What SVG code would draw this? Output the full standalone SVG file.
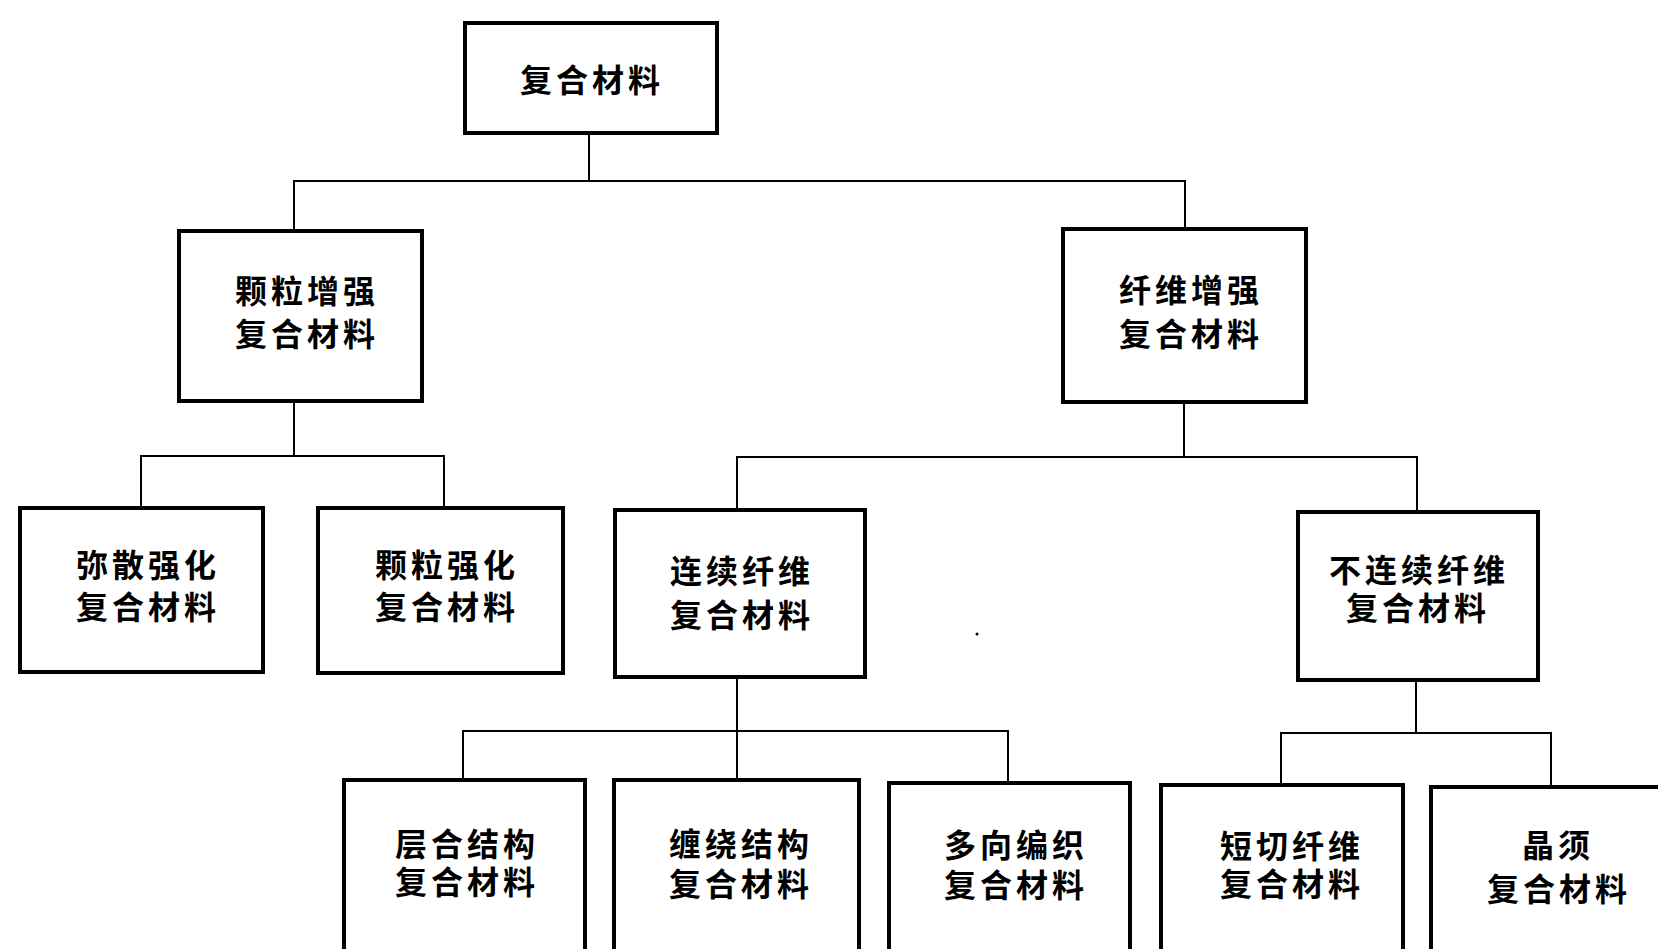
<svg xmlns="http://www.w3.org/2000/svg" width="1658" height="949" viewBox="0 0 1658 949">
<style>
.box{fill:#fff;stroke:#000;stroke-width:4}
.ln{fill:none;stroke:#000;stroke-width:2}
.t{font-family:"Noto Sans CJK SC","Noto Sans",sans-serif;font-size:32px;font-weight:bold;text-anchor:middle;dominant-baseline:central;letter-spacing:4px;fill:#000}
</style>
<rect width="1658" height="949" fill="#fff"/>
<g id="connectors">
<path class="ln" d="M589 133V181M294 231V181H1185V229"/>
<path class="ln" d="M294 401V456M141 508V456H444V508"/>
<path class="ln" d="M1184 402V457M737 510V457H1417V512"/>
<path class="ln" d="M737 677V731M463 780V731H1008V783M737 731V780"/>
<path class="ln" d="M1416 680V733M1281 785V733H1551V787"/>
<circle cx="977" cy="634" r="1.5" fill="#000"/>
</g>
<g id="n0"><rect class="box" x="465" y="23" width="252" height="110"/><text class="t" x="592" y="78">复合材料</text></g>
<g id="n1"><rect class="box" x="179" y="231" width="243" height="170"/><text class="t" x="307" y="289">颗粒增强</text><text class="t" x="307" y="332">复合材料</text></g>
<g id="n2"><rect class="box" x="1063" y="229" width="243" height="173"/><text class="t" x="1191" y="288">纤维增强</text><text class="t" x="1191" y="332">复合材料</text></g>
<g id="n3"><rect class="box" x="20" y="508" width="243" height="164"/><text class="t" x="148" y="563">弥散强化</text><text class="t" x="148" y="605">复合材料</text></g>
<g id="n4"><rect class="box" x="318" y="508" width="245" height="165"/><text class="t" x="447" y="563">颗粒强化</text><text class="t" x="447" y="605">复合材料</text></g>
<g id="n5"><rect class="box" x="615" y="510" width="250" height="167"/><text class="t" x="742" y="569">连续纤维</text><text class="t" x="742" y="613">复合材料</text></g>
<g id="n6"><rect class="box" x="1298" y="512" width="240" height="168"/><text class="t" x="1419" y="568">不连续纤维</text><text class="t" x="1418" y="606">复合材料</text></g>
<g id="n7"><rect class="box" x="344" y="780" width="241" height="190"/><text class="t" x="467" y="842">层合结构</text><text class="t" x="467" y="880">复合材料</text></g>
<g id="n8"><rect class="box" x="614" y="780" width="245" height="190"/><text class="t" x="741" y="842">缠绕结构</text><text class="t" x="741" y="882">复合材料</text></g>
<g id="n9"><rect class="box" x="889" y="783" width="241" height="190"/><text class="t" x="1016" y="843">多向编织</text><text class="t" x="1016" y="883">复合材料</text></g>
<g id="n10"><rect class="box" x="1161" y="785" width="242" height="190"/><text class="t" x="1292" y="844">短切纤维</text><text class="t" x="1292" y="882">复合材料</text></g>
<g id="n11"><rect class="box" x="1431" y="787" width="250" height="190"/><text class="t" x="1558" y="843">晶须</text><text class="t" x="1559" y="887">复合材料</text></g>
</svg>
